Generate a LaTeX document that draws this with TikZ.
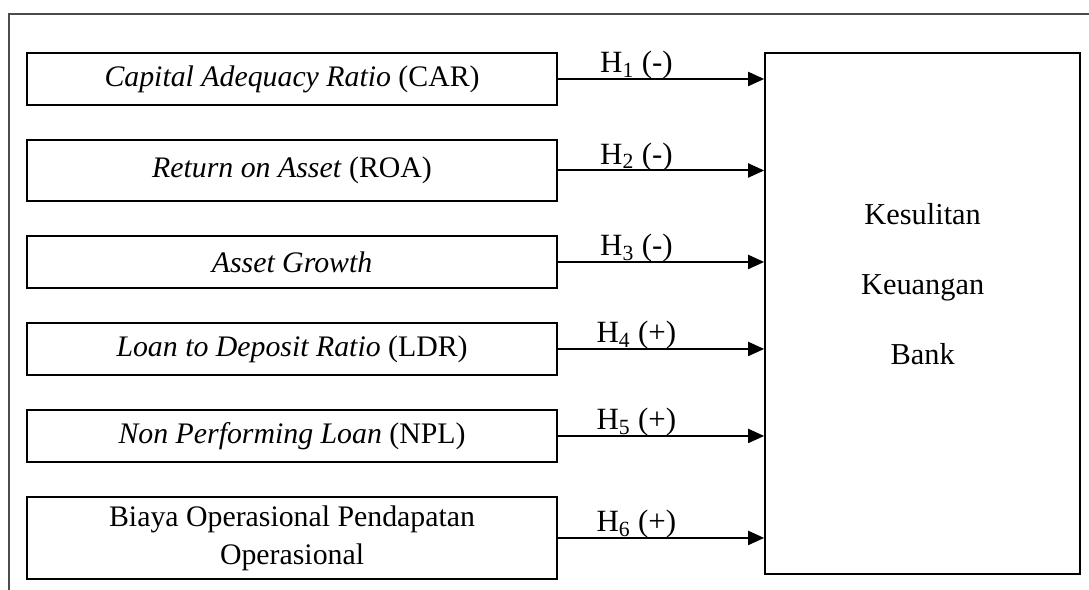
\documentclass[tikz,border=0pt]{standalone}
\usepackage{fontspec}
\setmainfont{Liberation Serif}
\usepackage{tikz}
\usetikzlibrary{arrows.meta,positioning}

\begin{document}
\begin{tikzpicture}[
    x=0.025cm, y=-0.025cm,
    node distance=0.825cm,
    varbox/.style={rectangle, draw, line width=1.4pt, minimum width=13.25cm, minimum height=1.3cm, align=center, inner sep=0pt, font=\fontsize{21.2}{27}\selectfont},
    outcome/.style={rectangle, draw, line width=1.4pt, minimum width=7.875cm, minimum height=13.025cm},
    hyp/.style={anchor=base, pos=0.38, yshift=0.15cm, inner sep=0pt, font=\fontsize{22}{24}\selectfont},
    line/.style={draw, line width=1.4pt},
    >={Triangle[length=0.4cm, width=0.35cm]}
]
\useasboundingbox (0,0) rectangle (1089,590);
\draw[black!70, line width=1.4pt] (9,14) rectangle (1120,620);

% Variables
\node[varbox, anchor=north west] (car) at (26,52) {\textit{Capital Adequacy Ratio} (CAR)};
\node[varbox, below=of car, minimum height=1.525cm] (roa) {\textit{Return on Asset} (ROA)};
\node[varbox, below=of roa] (ag) {\textit{Asset Growth}};
\node[varbox, below=of ag] (ldr) {\textit{Loan to Deposit Ratio} (LDR)};
\node[varbox, below=of ldr] (npl) {\textit{Non Performing Loan} (NPL)};
\node[varbox, below=of npl, minimum height=2.05cm] (bopo) {Biaya Operasional Pendapatan\\Operasional};

% Result
\node[outcome, right=5.15cm of car.north east, anchor=north west] (bank) {};
\node[align=center, font=\fontsize{21.6}{49.6}\selectfont, yshift=0.74cm] (banktext) at (bank.center) {Kesulitan\\Keuangan\\Bank};

% Hypotheses
\path[line,->] (car.east) -- node[hyp] {H\textsubscript{1} (-)} (car.east -| bank.west);
\path[line,->] (roa.east) -- node[hyp] {H\textsubscript{2} (-)} (roa.east -| bank.west);
\path[line,->] (ag.east) -- node[hyp] {H\textsubscript{3} (-)} (ag.east -| bank.west);
\path[line,->] (ldr.east) -- node[hyp] {H\textsubscript{4} (+)} (ldr.east -| bank.west);
\path[line,->] (npl.east) -- node[hyp] {H\textsubscript{5} (+)} (npl.east -| bank.west);
\path[line,->] (bopo.east) -- node[hyp] {H\textsubscript{6} (+)} (bopo.east -| bank.west);

\end{tikzpicture}
\end{document}
